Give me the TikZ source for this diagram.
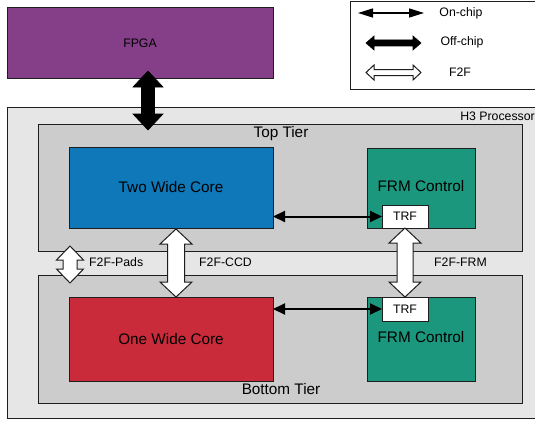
\documentclass[tikz,border=0pt]{standalone}
\usepackage{fontspec}
\setmainfont{Liberation Sans}
\usetikzlibrary{arrows.meta,calc}
\definecolor{fpgac}{HTML}{843F88}
\definecolor{bluec}{HTML}{0E78B8}
\definecolor{redc}{HTML}{C92B3B}
\definecolor{tealc}{HTML}{1A977D}
\definecolor{outerc}{HTML}{E6E6E6}
\definecolor{tierc}{HTML}{CCCCCC}
\definecolor{edgec}{HTML}{1E1E1E}
\newcommand\vdarrow[6]{% style, top tip, bottom tip, shaft half, head half, head length
  \path[#1] (#2) -- ++(#5,#6) -- ++({-(#5-#4)},0) -- ($(#3)+(#4,-#6)$) -- ++({#5-#4},0) -- (#3)
    -- ++(-#5,-#6) -- ++({#5-#4},0) -- ($(#2)+(-#4,#6)$) -- ++({-(#5-#4)},0) -- cycle;}
\newcommand\hdarrow[6]{% style, left tip, right tip, shaft half, head half, head length
  \path[#1] (#2) -- ++(#6,-#5) -- ++(0,{#5-#4}) -- ($(#3)+(-#6,-#4)$) -- ++(0,{-(#5-#4)}) -- (#3)
    -- ++(-#6,#5) -- ++(0,{-(#5-#4)}) -- ($(#2)+(#6,#4)$) -- ++(0,{#5-#4}) -- cycle;}
\tikzset{
  box/.style={draw=edgec, line width=1pt, inner sep=0pt, outer sep=0pt, anchor=north west},
  big/.style={font=\fontsize{15.3}{18}\selectfont},
  small/.style={font=\fontsize{12.3}{14}\selectfont},
  lbl/.style={inner sep=0pt, text=black},
  offchip/.style={fill=black, draw=black, line width=0.6pt},
  f2f/.style={fill=white, draw=edgec, line width=1pt},
  onchip/.style={{Triangle[length=12pt,width=11pt]}-{Triangle[length=12pt,width=11pt]}, line width=2pt, draw=black},
  onchipkey/.style={{Triangle[length=15pt,width=9pt]}-{Triangle[length=15pt,width=9pt]}, line width=1.5pt, draw=black},
}
\begin{document}
\begin{tikzpicture}[x=1pt,y=-1pt]
\useasboundingbox (0,0) rectangle (535,420);
% legend
\node[box, fill=white, minimum width=185pt, minimum height=87pt] (legend) at (350,2) {};
% FPGA
\node[box, fill=fpgac, minimum width=266pt, minimum height=70pt, small] (fpga) at (7,8) {FPGA};
% outer processor
\node[box, fill=outerc, minimum width=535pt, minimum height=311.5pt] (h3) at (7,107) {};
\node[lbl, small, anchor=east] (h3l) at (535,116) {H3 Processor};
% tiers
\node[box, fill=tierc, minimum width=484pt, minimum height=127pt] (top) at (38,124) {};
\node[lbl, big] (topl) at (281,134) {Top Tier};
\node[box, fill=tierc, minimum width=484pt, minimum height=128pt] (bot) at (38,275) {};
\node[lbl, big] (botl) at (281,389) {Bottom Tier};
% blocks
\node[box, fill=bluec, minimum width=204pt, minimum height=81pt, big] (twc) at (69,147) {Two Wide Core};
\node[box, fill=tealc, minimum width=108pt, minimum height=80pt] (frmT) at (367,148) {};
\node[lbl, big] (frmTl) at (421,186) {FRM Control};
\node[box, fill=white, minimum width=46pt, minimum height=23pt, small] (trfT) at (382,205) {TRF};
\node[box, fill=redc, minimum width=204pt, minimum height=84pt, big] (owc) at (69,297) {One Wide Core};
\node[box, fill=tealc, minimum width=108pt, minimum height=84pt] (frmB) at (367,297) {};
\node[lbl, big] (frmBl) at (421,337) {FRM Control};
\node[box, fill=white, minimum width=46pt, minimum height=24pt, small] (trfB) at (382,297) {TRF};
% connector end points
\coordinate (offA) at (148,71);
\coordinate (offB) at (148,130);
\coordinate (ccdA) at ($(twc.south)+(5,1)$);
\coordinate (ccdB) at ($(owc.north)+(5,0)$);
\coordinate (padA) at (70,246);
\coordinate (padB) at (70,283);
% connectors
\vdarrow{offchip}{offA}{offB}{6.5}{15}{16}
\draw[onchip] (twc.east |- trfT.west) -- (trfT.west);
\draw[onchip] (owc.east |- trfB.west) -- (trfB.west);
\vdarrow{f2f}{ccdA}{ccdB}{8.5}{16}{15}
\vdarrow{f2f}{trfT.south}{trfB.north}{8}{16}{15}
\vdarrow{f2f}{padA}{padB}{7}{13.5}{14}
\node[lbl, small, anchor=west] (padl) at (89,262) {F2F-Pads};
\node[lbl, small, anchor=west] (ccdl) at (199,262) {F2F-CCD};
\node[lbl, small, anchor=west] (frml) at (434,262) {F2F-FRM};
% legend content
\coordinate (l1a) at (358,13); \coordinate (l1b) at (424,13);
\coordinate (l2a) at (366,43); \coordinate (l2b) at (421,43);
\coordinate (l3a) at (366,72.5); \coordinate (l3b) at (421,72.5);
\draw[onchipkey] (l1a) -- (l1b);
\hdarrow{offchip}{l2a}{l2b}{3}{7}{8}
\hdarrow{f2f}{l3a}{l3b}{3}{7.5}{8}
\node[lbl, small] (lt1) at (461,13) {On-chip};
\node[lbl, small] (lt2) at (462,42) {Off-chip};
\node[lbl, small] (lt3) at (460,72) {F2F};
\end{tikzpicture}
\end{document}
